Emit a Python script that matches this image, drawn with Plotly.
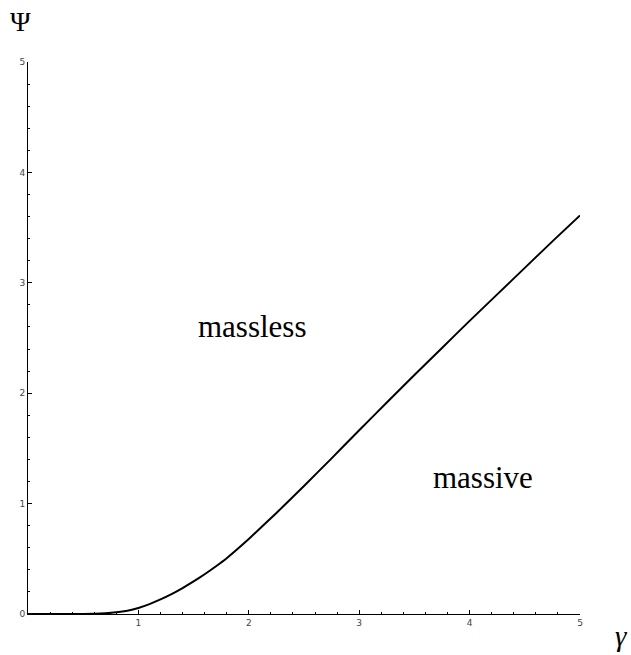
import plotly.graph_objects as go

gamma = [0, 0.2, 0.4, 0.6, 0.7, 0.8, 0.9, 1.0, 1.1, 1.2, 1.3, 1.4, 1.5, 1.6, 1.7,
         1.8, 1.9, 2.0, 2.25, 2.5, 2.75, 3.0, 3.25, 3.5, 3.75, 4.0, 4.25, 4.5, 4.75, 5.0]
psi = [0, 0, 0, 0.002, 0.006, 0.015, 0.03, 0.055, 0.09, 0.132, 0.18, 0.235, 0.295,
       0.36, 0.43, 0.505, 0.59, 0.68, 0.915, 1.16, 1.41, 1.665, 1.915, 2.165, 2.41,
       2.655, 2.895, 3.135, 3.375, 3.61]

x_ticks = [0, 1, 2, 3, 4, 5]
x_ticktext = ["", "1", "2", "3", "4", "5"]
y_ticks = [0, 1, 2, 3, 4, 5]
y_ticktext = ["0", "1", "2", "3", "4", "5"]

regions = [("massless", 2.03, 2.6), ("massive", 4.12, 1.24)]

fig = go.Figure()
fig.add_trace(go.Scatter(x=gamma, y=psi, mode="lines",
                         line=dict(color="black", width=2, shape="spline", smoothing=0.5),
                         showlegend=False, hoverinfo="skip"))

for txt, xx, yy in regions:
    fig.add_annotation(x=xx, y=yy, text=txt, showarrow=False,
                       xanchor="center", yanchor="middle",
                       font=dict(family="Liberation Serif", size=31, color="black"))

axis_common = dict(showgrid=False, zeroline=False, showline=True, linecolor="black",
                   linewidth=1, ticks="inside", ticklen=4, tickcolor="black",
                   tickfont=dict(family="DejaVu Sans", size=9, color="#444"),
                   range=[0, 5], mirror=False)

fig.update_xaxes(**axis_common, tickmode="array", tickvals=x_ticks, ticktext=x_ticktext,
                 minor=dict(ticks="inside", ticklen=2, dtick=0.2, tick0=0, tickcolor="black"))
fig.update_yaxes(**axis_common, tickmode="array", tickvals=y_ticks, ticktext=y_ticktext,
                 minor=dict(ticks="inside", ticklen=2, dtick=0.2, tick0=0, tickcolor="black"))

W, H = 631, 655
L, R, T, B = 28, 51, 62, 41
pw, ph = W - L - R, H - T - B

def paper_x(px):
    return (px - L) / pw

def paper_y(py):
    return (H - B - py) / ph

fig.add_annotation(x=paper_x(20), y=paper_y(22), xref="paper", yref="paper", text="Ψ",
                   showarrow=False, xanchor="center", yanchor="middle",
                   font=dict(family="Liberation Serif", size=28, color="black"))
fig.add_annotation(x=paper_x(621), y=paper_y(636), xref="paper", yref="paper",
                   text="<i>γ</i>", showarrow=False, xanchor="center", yanchor="middle",
                   font=dict(family="Liberation Serif", size=29, color="black"))

fig.update_layout(width=W, height=H, margin=dict(l=L, r=R, t=T, b=B),
                  plot_bgcolor="white", paper_bgcolor="white")

fig.write_html("out.html", config={"displayModeBar": False},
               post_script="document.body.style.margin='0';document.body.style.overflow='hidden';")
